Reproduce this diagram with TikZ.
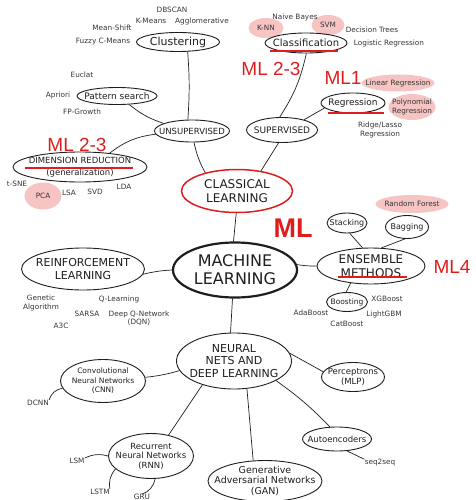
\documentclass[tikz,border=0pt]{standalone}
\usepackage{fontspec}
\setmainfont{DejaVu Sans}
\newfontfamily\mlfont{Liberation Sans}
\usetikzlibrary{shapes.geometric}

\definecolor{ink}{RGB}{30,30,30}
\definecolor{mlred}{RGB}{222,30,30}
\definecolor{mlpink}{RGB}{247,196,196}
\newcommand{\fsz}[2]{\fontsize{#1}{#2}\selectfont}

\begin{document}
\begin{tikzpicture}[x=1pt, y=-1pt,
    blob/.style 2 args={ellipse, draw=ink, line width=.9pt, inner sep=0pt,
                        minimum width=#1, minimum height=#2},
    lbl/.style={align=center, text=ink, inner sep=0pt},
    leaf/.style={lbl, text=ink!90, font=\fsz{7.3}{8.5}},
    hl/.style={ellipse, fill=mlpink, inner sep=0pt},
    tag/.style={text=mlred, inner sep=0pt, font=\mlfont\fsz{19}{20}},
    link/.style={draw=ink, line width=.7pt},
    uline/.style={mlred, line width=1.2pt}]
\useasboundingbox (0,0) rectangle (475,500);

% highlights
\node[hl, minimum width=35, minimum height=20] (knnhl)  at (266,28)  {};
\node[hl, minimum width=33, minimum height=20] (svmhl)  at (328,25)  {};
\node[hl, minimum width=73, minimum height=17] (linhl)  at (398,83)  {};
\node[hl, minimum width=47, minimum height=26] (polyhl) at (412,107) {};
\node[hl, minimum width=37, minimum height=27] (pcahl)  at (43,196)  {};
\node[hl, minimum width=73, minimum height=18] (rfhl)   at (412,204) {};

% centre and main branches
\node[blob={124}{55}, line width=2.2pt,
      label={[lbl, font=\fsz{16}{18}]center:MACHINE\\LEARNING}] (ml) at (235,270) {};
\node[blob={111}{43}, draw=mlred, line width=1.5pt,
      label={[lbl, font=\fsz{12}{13.5}]center:CLASSICAL\\LEARNING}] (cl) at (237,191) {};
\node[blob={108}{36},
      label={[lbl, font=\fsz{12}{13.5}]center:ENSEMBLE\\METHODS}] (ens) at (371,266) {};
\node[blob={123}{42},
      label={[lbl, font=\fsz{11}{12.5}]center:REINFORCEMENT\\LEARNING}] (rl) at (83,269) {};
\node[blob={115}{56},
      label={[lbl, font=\fsz{11}{12.5}]center:NEURAL\\NETS AND\\DEEP LEARNING}] (nn) at (234,361) {};

% classical learning
\node[blob={75}{22}, label={[lbl, font=\fsz{8.5}{10}]center:UNSUPERVISED}] (unsup) at (192,131) {};
\node[blob={71}{25}, label={[lbl, font=\fsz{9}{10}]center:SUPERVISED}] (sup) at (282,130) {};
\node[blob={83}{19}, label={[lbl, font=\fsz{11}{12}]center:Clustering}] (clu) at (178,42) {};
\node[blob={80}{17}, label={[lbl, font=\fsz{9}{10}]center:Pattern search}] (pat) at (117,96) {};
\node[blob={134}{30},
      label={[lbl, font=\fsz{8.5}{12}]center:DIMENSION REDUCTION\\(generalization)}] (dim) at (80,167) {};
\node[blob={82}{20}, label={[lbl, font=\fsz{10}{11}]center:Classification}] (cla) at (306,43) {};
\node[blob={64}{20}, label={[lbl, font=\fsz{9}{10}]center:Regression}] (reg) at (353,103) {};

% ensembles
\node[blob={40}{20}, label={[lbl, font=\fsz{8}{9}]center:Stacking}] (stack) at (347,223) {};
\node[blob={43}{23}, label={[lbl, font=\fsz{8}{9}]center:Bagging}] (bag) at (407,227) {};
\node[blob={41}{19}, label={[lbl, font=\fsz{7.5}{8.5}]center:Boosting}] (boost) at (347,302) {};

% neural nets
\node[blob={85}{43},
      label={[lbl, font=\fsz{7.5}{9.5}]center:Convolutional\\Neural Networks\\(CNN)}] (cnn) at (103,381) {};
\node[blob={85}{45},
      label={[lbl, font=\fsz{8.5}{9.5}]center:Recurrent\\Neural Networks\\(RNN)}] (rnn) at (151,456) {};
\node[blob={63}{29},
      label={[lbl, font=\fsz{8.5}{10}]center:Perceptrons\\(MLP)}] (mlp) at (353,377) {};
\node[blob={69}{24}, label={[lbl, font=\fsz{8.5}{10}]center:Autoencoders}] (auto) at (337,439) {};
\node[blob={114}{41},
      label={[lbl, font=\fsz{9.5}{10.5}]center:Generative\\Adversarial Networks\\(GAN)}] (gan) at (265,481) {};

% leaves
\node[leaf] (dbscan) at (172,10)  {DBSCAN};
\node[leaf] (kmeans) at (151,21)  {K-Means};
\node[leaf] (agglo)  at (202,21)  {Agglomerative};
\node[leaf] (mshift) at (112,28)  {Mean-Shift};
\node[leaf] (fuzzy)  at (103,42)  {Fuzzy C-Means};
\node[leaf] (euclat) at (82,75)   {Euclat};
\node[leaf] (apri)   at (58,95)   {Apriori};
\node[leaf] (fpg)    at (82,112)  {FP-Growth};
\node[leaf] (tsne)   at (17,184)  {t-SNE};
\node[leaf] (pca)    at (pcahl)   {PCA};
\node[leaf] (lsa)    at (69,193)  {LSA};
\node[leaf] (svd)    at (95,192)  {SVD};
\node[leaf] (lda)    at (124,187) {LDA};
\node[leaf] (nbayes) at (295,17)  {Naive Bayes};
\node[leaf] (knn)    at (knnhl)   {K-NN};
\node[leaf] (svm)    at (svmhl)   {SVM};
\node[leaf] (dtree)  at (372,30)  {Decision Trees};
\node[leaf] (logreg) at (389,43)  {Logistic Regression};
\node[leaf] (linreg) at (linhl)   {Linear Regression};
\node[leaf] (poly)   at (polyhl)  {Polynomial\\Regression};
\node[leaf] (ridge)  at (380,130) {Ridge/Lasso\\Regression};
\node[leaf] (rforest) at (rfhl)   {Random Forest};
\node[leaf] (xgb)    at (387,299) {XGBoost};
\node[leaf] (lgbm)   at (384,314) {LightGBM};
\node[leaf] (catb)   at (347,324) {CatBoost};
\node[leaf] (adab)   at (311,313) {AdaBoost};
\node[leaf] (gen)    at (41,303)  {Genetic\\Algorithm};
\node[leaf] (qlearn) at (119,299) {Q-Learning};
\node[leaf] (sarsa)  at (87,314)  {SARSA};
\node[leaf] (dqn)    at (139,318) {Deep Q-Network\\(DQN)};
\node[leaf] (athree) at (61,326)  {A3C};
\node[leaf] (dcnn)   at (38,403)  {DCNN};
\node[leaf] (lsm)    at (77,461)  {LSM};
\node[leaf] (lstm)   at (100,492) {LSTM};
\node[leaf] (gru)    at (142,497) {GRU};
\node[leaf] (sts)    at (380,463) {seq2seq};

% red notes
\node[tag] (tagdim) at (77,145)  {ML 2-3};
\node[tag] (tagcla) at (271,69)  {ML 2-3};
\node[tag] (tagreg) at (343,78)  {ML1};
\node[tag] (tagens) at (452,267) {ML4};
\node[tag, font=\mlfont\bfseries\fsz{27}{28}] (tagml) at (293,228) {ML};
\draw[uline] ([shift={(-55,1)}]dim.center) -- ([shift={(53,1)}]dim.center);
\draw[uline] ([shift={(-36,8)}]cla.center) -- ([shift={(32,8)}]cla.center);
\draw[uline] ([shift={(-25,10)}]reg.center) -- ([shift={(31,10)}]reg.center);
\draw[uline] ([shift={(-33,11)}]ens.center) -- ([shift={(36,11)}]ens.center);

% connectors
\draw[link] (clu.-45) to[bend left=4] (unsup.110);
\draw[link] (pat.-35) to[bend right=10] (unsup.165);
\draw[link] (dim.25) to[bend left=15] (unsup.185);
\draw[link] (cla.-88) to[bend left=10] (sup.100);
\draw[link] (reg.190) -- (sup.25);
\draw[link] (unsup.-80) to[bend right=8] (cl.150);
\draw[link] (sup.-105) -- (cl.40);
\draw[link] (cl.-92) -- (ml.93);
\draw[link] (ml.5) to[bend right=5] (ens.west);
\draw[link] (stack.-75) -- (ens.115);
\draw[link] (bag.-100) -- (ens.60);
\draw[link] (ens.-140) -- (boost.95);
\draw[link] (rl.-5) to[bend left=5] (ml.180);
\draw[link] (ml.-95) -- (nn.97);
\draw[link] (nn.190) to[bend left=5] (cnn.5);
\draw[link] (nn.8) -- (mlp.170);
\draw[link] (nn.-25) to[bend left=5] (auto.120);
\draw[link] (nn.-143) -- (rnn.50);
\draw[link] (nn.-65) -- (gan.120);
\draw[link] (cnn.190) to[bend right=30] (dcnn.north east);
\draw[link] (rnn.west) to[bend right=20] (lsm.north east);
\draw[link] (rnn.-160) to[bend right=25] (lstm.north east);
\draw[link] (rnn.-80) to[bend left=30] (gru.north);
\draw[link] (auto.-50) -- (sts.north west);
\end{tikzpicture}
\end{document}
